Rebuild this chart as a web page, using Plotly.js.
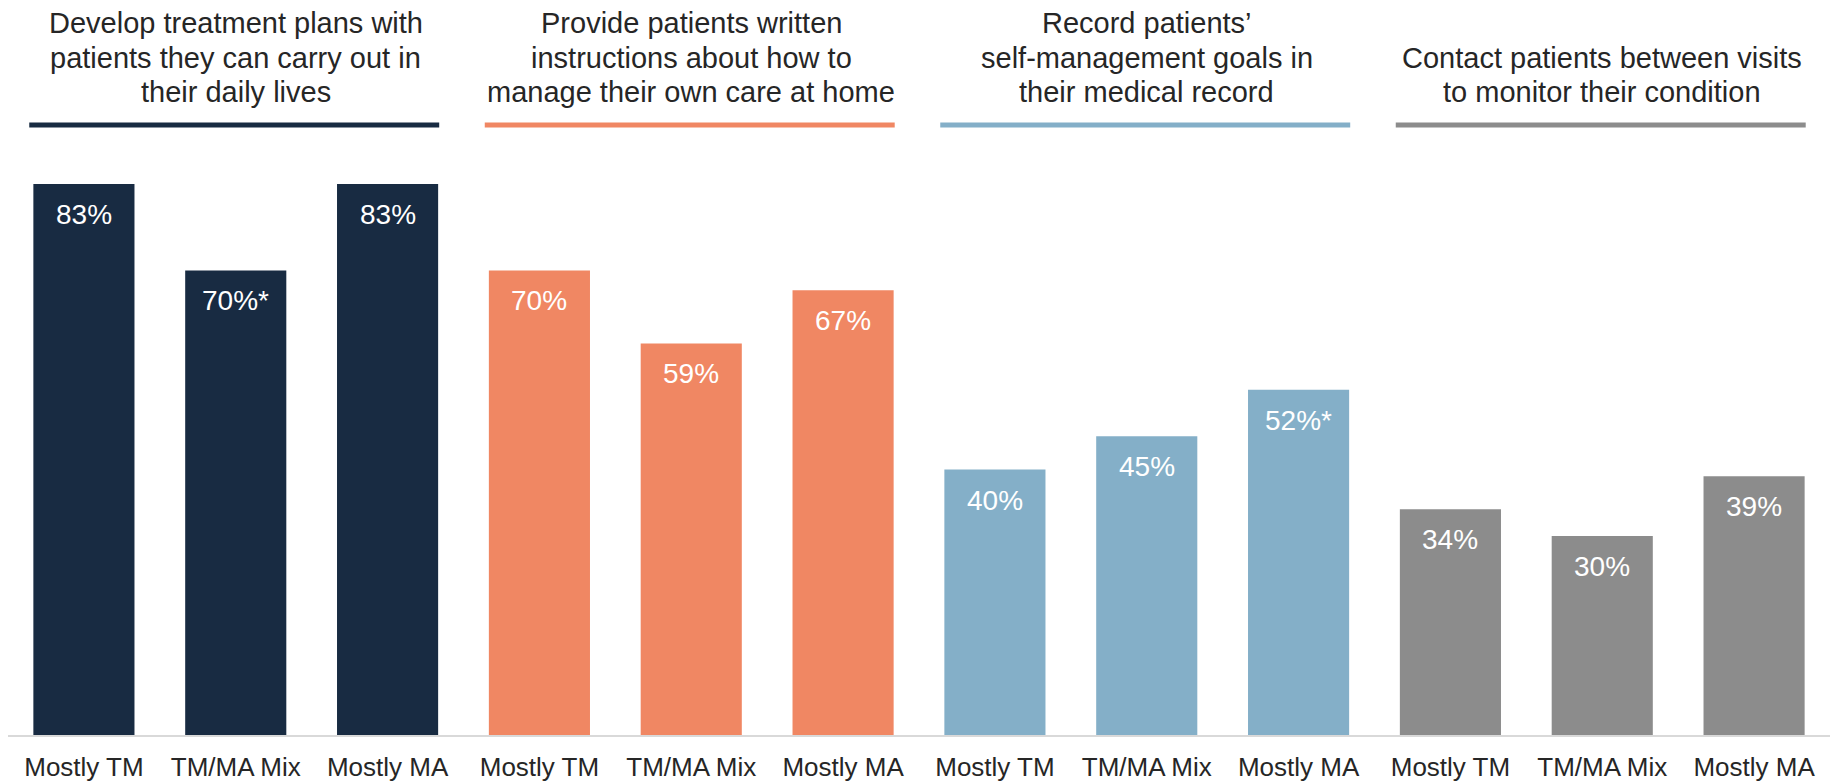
<!DOCTYPE html>
<html>
<head>
<meta charset="utf-8">
<script src="https://cdn.plot.ly/plotly-3.0.1.min.js"></script>
<style>
html, body { margin: 0; padding: 0; background: #ffffff; }
#chart { width: 1835px; height: 781px; }
</style>
</head>
<body>
<div id="chart"></div>
<script>
// ---- data ----
const groupTitles = [
  ["Develop treatment plans with", "patients they can carry out in", "their daily lives"],
  ["Provide patients written", "instructions about how to", "manage their own care at home"],
  ["Record patients\u2019", "self-management goals in", "their medical record"],
  ["Contact patients between visits", "to monitor their condition"]
];
const subCategories = ["Mostly TM", "TM/MA Mix", "Mostly MA"];
const developPlans   = [83, 70, 83];
const writtenInstr   = [70, 59, 67];
const recordGoals    = [40, 45, 52];
const contactPatients = [34, 30, 39];
const significant = [
  [false, true, false],
  [false, false, false],
  [false, false, true],
  [false, false, false]
];
const groupColors = ["#182b42", "#f08763", "#84afc8", "#8c8c8c"];

// ---- build ----
const groups = [developPlans, writtenInstr, recordGoals, contactPatients];
const xs = [], ys = [], cols = [], tickText = [], labels = [];
groups.forEach((vals, g) => {
  vals.forEach((v, j) => {
    const idx = g * subCategories.length + j;
    xs.push(idx);
    ys.push(v);
    cols.push(groupColors[g]);
    tickText.push(subCategories[j]);
    labels.push(v + "%" + (significant[g][j] ? "*" : ""));
  });
});

const W = 1835, H = 781;
const M = {l: 8, r: 5, t: 135, b: 46};
const plotH = H - M.t - M.b;
const toPaperY = px => (H - M.b - px) / plotH;
const FONT = "Liberation Sans, Arial, Helvetica, sans-serif";

const annotations = [];
// value labels inside bar tops
xs.forEach((x, i) => {
  annotations.push({
    x: x, y: ys[i], xref: "x", yref: "y",
    text: labels[i], showarrow: false,
    xanchor: "center", yanchor: "top", yshift: -13,
    font: {family: FONT, size: 28, color: "#ffffff"}
  });
});
// group titles (bottom aligned, 3 line slots)
const lineBaselines = [33, 68, 102];
const shapes = [];
groupTitles.forEach((lines, g) => {
  const n = subCategories.length;
  const center = g * n + (n - 1) / 2;
  const offset = lineBaselines.length - lines.length;
  lines.forEach((t, k) => {
    const base = lineBaselines[offset + k];
    annotations.push({
      x: center, xref: "x", y: toPaperY(base - 10), yref: "paper",
      text: t, showarrow: false, xanchor: "center", yanchor: "middle",
      font: {family: FONT, size: 29, color: "#262626"}
    });
  });
  shapes.push({
    type: "line", xref: "x", yref: "paper",
    x0: g * n - 0.36, x1: g * n + n - 1 + 0.34,
    y0: toPaperY(125), y1: toPaperY(125),
    line: {color: groupColors[g], width: 5}
  });
});

const trace = {
  type: "bar",
  x: xs, y: ys,
  marker: {color: cols, line: {width: 0}},
  hoverinfo: "none",
  showlegend: false
};

const layout = {
  width: W, height: H,
  margin: M,
  paper_bgcolor: "#ffffff",
  plot_bgcolor: "#ffffff",
  bargap: 0.334,
  font: {family: FONT, color: "#262626"},
  xaxis: {
    range: [-0.5, xs.length - 0.5],
    tickmode: "array", tickvals: xs, ticktext: tickText,
    tickfont: {family: FONT, size: 26, color: "#262626"},
    showgrid: false, zeroline: false,
    showline: true, linecolor: "#d9d9d9", linewidth: 2,
    ticks: "", ticklabelstandoff: 8,
    automargin: false,
    fixedrange: true
  },
  yaxis: {
    range: [0, 90.4],
    visible: false, showgrid: false, zeroline: false,
    fixedrange: true
  },
  annotations: annotations,
  shapes: shapes
};

Plotly.newPlot("chart", [trace], layout, {displayModeBar: false, staticPlot: true});
</script>
</body>
</html>
